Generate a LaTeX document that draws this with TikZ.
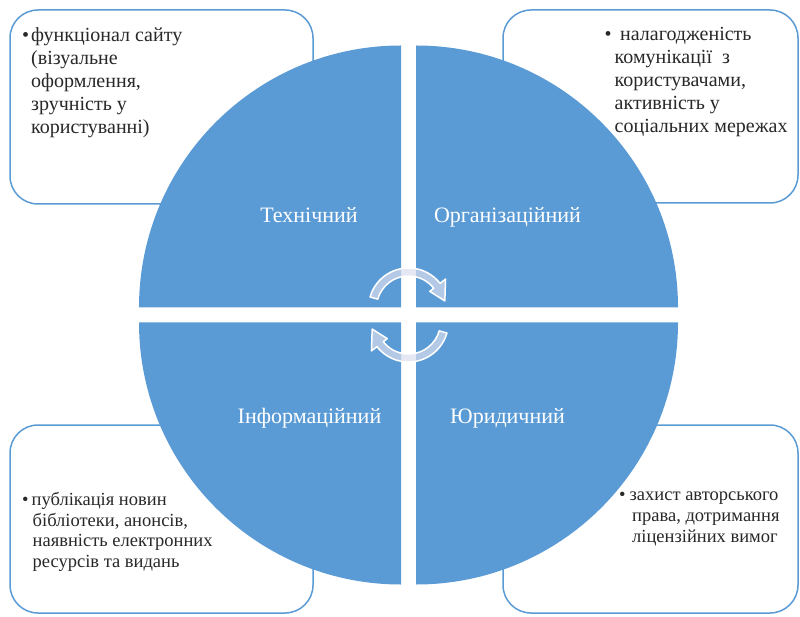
\documentclass[tikz,border=0pt]{standalone}
\usepackage{fontspec}
\setmainfont{Liberation Serif}
\usepackage{xcolor}
\usetikzlibrary{positioning}

\definecolor{quadblue}{RGB}{91,155,213}
\definecolor{arrowfill}{RGB}{218,221,238}
\definecolor{textgray}{RGB}{40,40,40}

\newcommand{\hangtop}{\hspace*{9pt}}
\newcommand{\hangbot}{\hspace*{10.5pt}}

\tikzset{
	textbox/.style={draw=quadblue, line width=1.5pt, fill=white, rounded corners=28pt},
	quadrant/.style={fill=quadblue},
	quadlabel/.style={text=white, font=\fontsize{22}{26}\selectfont, anchor=base, inner sep=0pt},
	bullettext/.style={text=textgray, align=left, anchor=north west, inner sep=0pt},
	toptext/.style={bullettext, font=\fontsize{20}{23}\selectfont},
	bottext/.style={bullettext, font=\fontsize{18.5}{20.7}\selectfont},
	cyclearrow/.style={fill=arrowfill, fill opacity=0.7, draw=white, line width=1.5pt, line join=round},
}

\begin{document}
\begin{tikzpicture}[x=1pt, y=-1pt]
	\useasboundingbox (0,0) rectangle (800,617);

	%Boxes

	\draw [textbox] (10,10) rectangle (313,204);
	\draw [textbox] (503,10) rectangle (798,203);
	\draw [textbox] (10,425) rectangle (313,613);
	\draw [textbox] (503,425) rectangle (798,613);

	\node (TechText) [toptext] at (22,27) {\textbullet\hspace{2pt}функціонал сайту\\\hangtop(візуальне\\\hangtop оформлення,\\\hangtop зручність у\\\hangtop користуванні)};

	\node (OrgText) [toptext] at (604.5,27) {\textbullet\hspace{8.5pt}налагодженість\\\hspace*{10pt}комунікації\ \ з\\\hspace*{10pt}користувачами,\\\hspace*{10pt}активність у\\\hspace*{10pt}соціальних мережах};

	\node (InfoText) [bottext] at (22,492) {\textbullet\hspace{3pt}публікація новин\\\hangbot бібліотеки, анонсів,\\\hangbot наявність електронних\\\hangbot ресурсів та видань};

	\node (LawText) [bottext] at (619,492) {\textbullet\hspace{4pt}захист авторського\\\hspace*{13pt}права, дотримання\\\hspace*{13pt}ліцензійних вимог};

	%Quadrants

	\coordinate (TechCorner) at (401,307.5);
	\coordinate (OrgCorner) at (416,307.5);
	\coordinate (InfoCorner) at (401,322.5);
	\coordinate (LawCorner) at (416,322.5);

	\fill [quadrant] (TechCorner) -- ++(180:262) arc [start angle=180, end angle=270, radius=262] -- cycle;
	\fill [quadrant] (OrgCorner) -- ++(270:262) arc [start angle=270, end angle=360, radius=262] -- cycle;
	\fill [quadrant] (LawCorner) -- ++(0:262) arc [start angle=0, end angle=90, radius=262] -- cycle;
	\fill [quadrant] (InfoCorner) -- ++(90:262) arc [start angle=90, end angle=180, radius=262] -- cycle;

	\node (TechName) [quadlabel, shift={(-92,-84.5)}] at (TechCorner) {Технічний};
	\node (OrgName) [quadlabel, shift={(91.5,-84.5)}] at (OrgCorner) {Організаційний};
	\node (InfoName) [quadlabel, shift={(-91.5,100.5)}] at (InfoCorner) {Інформаційний};
	\node (LawName) [quadlabel, shift={(91.5,100.5)}] at (LawCorner) {Юридичний};

	%Arrows

	\begin{scope}[shift={(408.5,308)}]
		\draw [cyclearrow] (196:40) arc [start angle=196, end angle=322, radius=40] -- (322:47) -- (349:37) -- (322:27) -- (322:32) arc [start angle=322, end angle=196, radius=32] -- cycle;
	\end{scope}

	\begin{scope}[shift={(408.5,322)}]
		\draw [cyclearrow] (16:40) arc [start angle=16, end angle=142, radius=40] -- (142:47) -- (169:37) -- (142:27) -- (142:32) arc [start angle=142, end angle=16, radius=32] -- cycle;
	\end{scope}

\end{tikzpicture}
\end{document}
